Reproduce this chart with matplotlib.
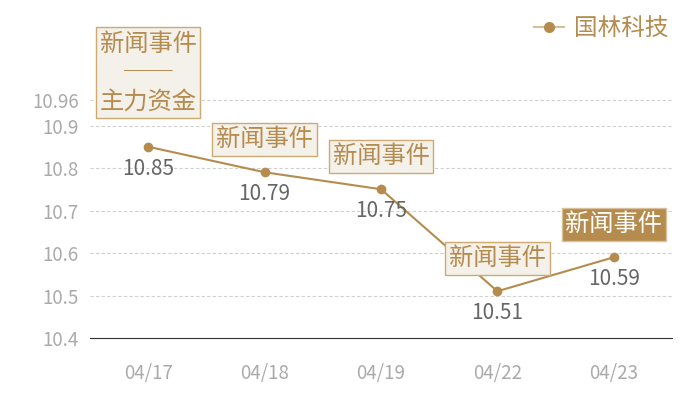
import matplotlib
matplotlib.use("Agg")
import matplotlib.pyplot as plt
from matplotlib.lines import Line2D

plt.rcParams['font.family'] = ['Noto Sans CJK SC', 'DejaVu Sans']

dates = ['04/17', '04/18', '04/19', '04/22', '04/23']
prices = [10.85, 10.79, 10.75, 10.51, 10.59]
events = ['新闻事件\n──\n主力资金', '新闻事件', '新闻事件', '新闻事件', '新闻事件']
highlight = [False, False, False, False, True]
yticks = [10.4, 10.5, 10.6, 10.7, 10.8, 10.9, 10.96]
series_name = '国林科技'

gold = '#b58c4e'
box_face = '#f4f0ea'
box_edge = '#cdaa72'

fig = plt.figure(figsize=(7, 4), dpi=100)
ax = fig.add_axes([90 / 700, 62 / 400, 582 / 700, 238 / 400])

x = list(range(len(dates)))
ax.plot(x, prices, color=gold, lw=1.5, marker='o', ms=6, zorder=3)

for xi, p, ev, hl in zip(x, prices, events, highlight):
    ax.annotate(f'{p:.2f}', (xi, p), xytext=(0, -11), textcoords='offset pixels',
                ha='center', va='top', fontsize=15, color='#666666')
    off = 32 if '\n' in ev else 20
    if hl:
        bb = dict(boxstyle='square,pad=0.15', fc=gold, ec='#d8c09a', lw=1)
        tc = 'white'
    else:
        bb = dict(boxstyle='square,pad=0.15', fc=box_face, ec=box_edge, lw=1)
        tc = gold
    ax.annotate(ev, (xi, p), xytext=(0, off), textcoords='offset pixels',
                ha='center', va='bottom', fontsize=17.5, color=tc, bbox=bb,
                linespacing=1.15, zorder=5)

ax.set_xlim(-0.5, len(dates) - 0.5)
ax.set_ylim(10.4, 10.96)
ax.set_xticks(x)
ax.set_xticklabels(dates)
ax.set_yticks(yticks)
ax.set_yticklabels([f'{v:g}' for v in yticks])
ax.tick_params(axis='both', length=0, colors='#aaaaaa', labelsize=13.5)
ax.tick_params(axis='x', pad=18)
ax.tick_params(axis='y', pad=8)
ax.grid(axis='y', color='#d0d0d0', ls=(0, (3, 2)), lw=0.8)
ax.set_axisbelow(True)
for s in ['top', 'right', 'left']:
    ax.spines[s].set_visible(False)
ax.spines['bottom'].set_color('#333333')
ax.spines['bottom'].set_zorder(4)

handle = Line2D([], [], color='#d6bf98', lw=1.5, marker='o', ms=7,
                markerfacecolor=gold, markeredgecolor=gold)
leg = fig.legend([handle], [series_name], loc='upper right', bbox_to_anchor=(0.985, 1.01),
                 frameon=False, fontsize=17, handlelength=1.3, handletextpad=0.4)
for t in leg.get_texts():
    t.set_color(gold)

fig.savefig('out.png', dpi=100)
